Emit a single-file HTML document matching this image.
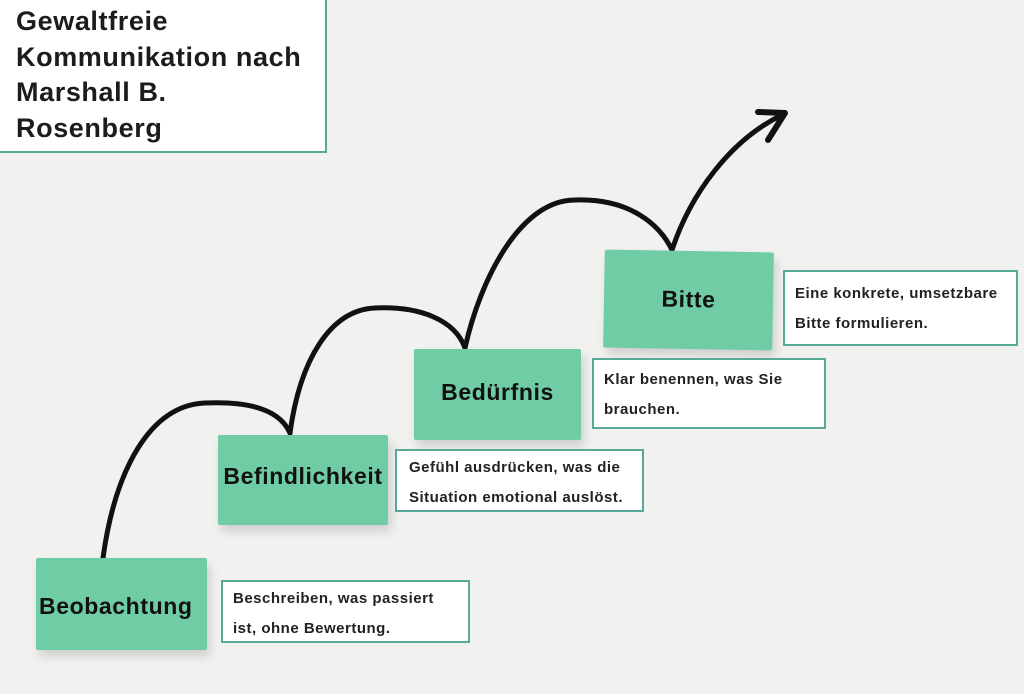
<!DOCTYPE html>
<html><head><meta charset="utf-8"><style>
body{margin:0;width:1024px;height:694px;overflow:hidden;background:#f1f1f0;font-family:"Liberation Sans",sans-serif;position:relative}
.t{position:absolute;left:-2px;top:-2px;width:329px;height:155px;background:#fff;border:2px solid #5aa898;box-sizing:border-box}
.t div{position:absolute;left:16px;top:4px;font-weight:bold;font-size:27px;letter-spacing:0.6px;line-height:35.5px;color:#1c1c1c}
.b{position:absolute;background:#6fcca4;box-shadow:3px 6px 10px rgba(0,0,0,.15);font-weight:bold;color:#111;display:flex;align-items:center;justify-content:center;font-size:23px;letter-spacing:0.6px;border-radius:2px}
.n{position:absolute;background:#fff;border:2px solid #5aa898;box-sizing:border-box;font-weight:bold;font-size:15px;letter-spacing:0.5px;line-height:30px;color:#222;padding:2px 0 0 10px;white-space:nowrap}
</style></head><body>
<svg width="1024" height="694" style="position:absolute;left:0;top:0">
<path d="M103,558 C115,470 150,405 205,403 C250,401 280,410 290,433 C300,360 330,310 375,308 C420,306 455,320 465,348 C480,280 520,200 575,200 C630,198 660,225 672,250 C690,195 730,140 782,115" fill="none" stroke="#111" stroke-width="5" stroke-linecap="round"/>
<path d="M758,112 L785,113 L768,140" fill="none" stroke="#111" stroke-width="6" stroke-linecap="round" stroke-linejoin="round"/>
</svg>
<div class="t"><div>Gewaltfreie<br>Kommunikation nach<br>Marshall B.<br>Rosenberg</div></div>
<div class="b" style="left:36px;top:558px;width:171px;height:92px;justify-content:flex-start;padding-left:3px;box-sizing:border-box;padding-top:4px">Beobachtung</div>
<div class="b" style="left:218px;top:435px;width:170px;height:90px;padding-bottom:8px;box-sizing:border-box">Befindlichkeit</div>
<div class="b" style="left:414px;top:349px;width:167px;height:91px;padding-bottom:4px;box-sizing:border-box">Bedürfnis</div>
<div class="b" style="left:604px;top:251px;width:169px;height:98px;transform:rotate(1deg);padding-bottom:2px;box-sizing:border-box">Bitte</div>
<div class="n" style="left:221px;top:580px;width:249px;height:63px">Beschreiben, was passiert<br>ist, ohne Bewertung.</div>
<div class="n" style="left:395px;top:449px;width:249px;height:63px;padding-left:12px">Gefühl ausdrücken, was die<br>Situation emotional auslöst.</div>
<div class="n" style="left:592px;top:358px;width:234px;height:71px;padding-top:5px">Klar benennen, was Sie<br>brauchen.</div>
<div class="n" style="left:783px;top:270px;width:235px;height:76px;padding-top:7px">Eine konkrete, umsetzbare<br>Bitte formulieren.</div>
</body></html>
